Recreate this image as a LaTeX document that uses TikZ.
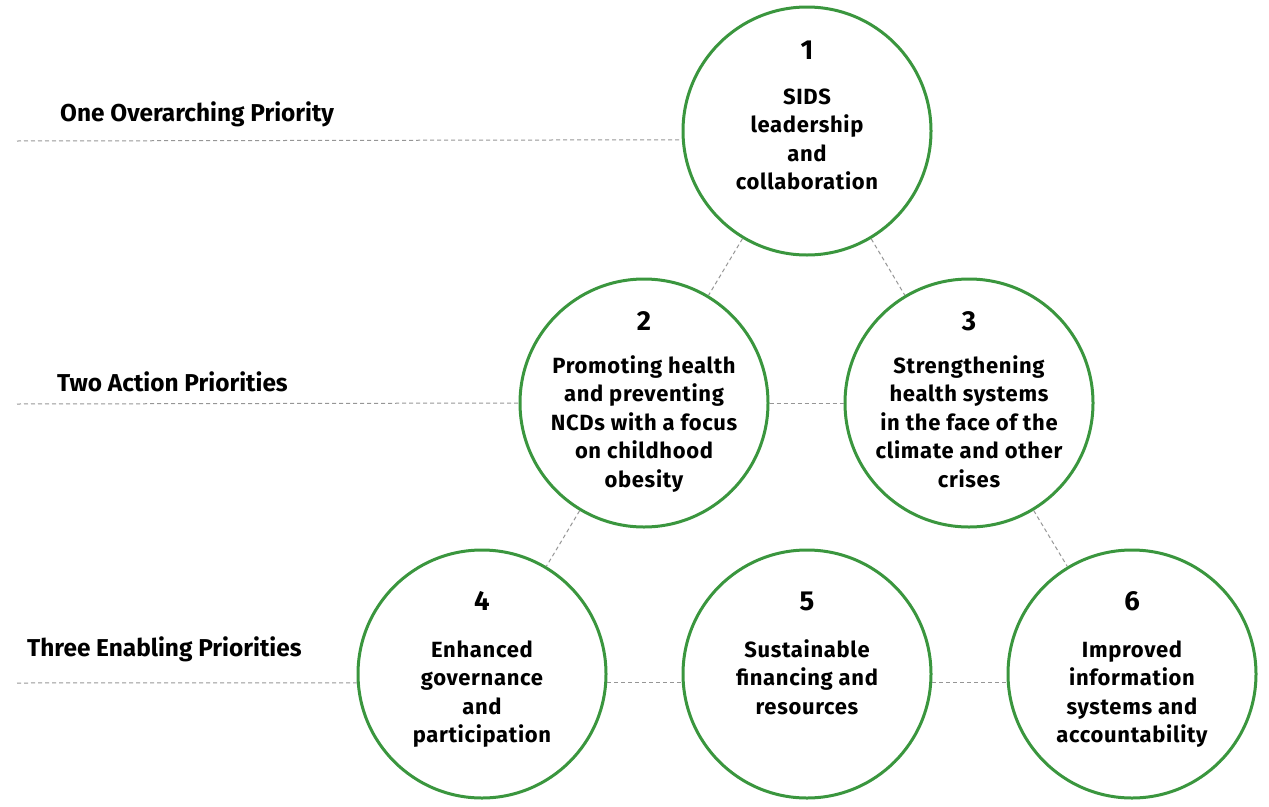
\documentclass[tikz,border=0pt]{standalone}
\usepackage{fontspec}
\setmainfont{Fira Sans}
\newfontfamily\bodyfont[LetterSpace=3.0]{Fira Sans}
\definecolor{ringgreen}{RGB}{58,150,62}
\definecolor{dashgray}{RGB}{150,150,150}
\tikzset{
  ring/.style={circle, draw=ringgreen, line width=3pt, minimum size=248pt, inner sep=0pt},
  num/.style={anchor=base, font=\fontsize{27.5}{30}\selectfont\bfseries, inner sep=0pt},
  body/.style={anchor=base, font=\bodyfont\fontsize{22}{28.5}\selectfont\bfseries, inner sep=0pt},
  lbl/.style={anchor=base west, font=\fontsize{24.4}{28}\selectfont\bfseries, inner sep=0pt},
  guide/.style={draw=dashgray, line width=1pt, dash pattern=on 4pt off 3pt},
}
\newcommand{\mylines}[1]{\setlength{\tabcolsep}{0pt}\begin{tabular}[t]{c}#1\end{tabular}}
\begin{document}
\begin{tikzpicture}[x=1pt,y=-1pt]
\useasboundingbox (0,0) rectangle (1269,806);
% circles
\node[ring] (c1) at (807,131) {};
\node[ring] (c2) at (644,403) {};
\node[ring] (c3) at (969,403) {};
\node[ring] (c4) at (482,674) {};
\node[ring] (c5) at (807,674) {};
\node[ring] (c6) at (1132,674) {};
% numbers
\node[num] (n1) at (807,59) {1};
\node[num] (n2) at (644,330) {2};
\node[num] (n3) at (969,330) {3};
\node[num] (n4) at (482,610) {4};
\node[num] (n5) at (807,610) {5};
\node[num] (n6) at (1132,610) {6};
% texts
\node[body] (t1) at (807,104) {\mylines{SIDS\\leadership\\and\\collaboration}};
\node[body] (t2) at (644,373) {\mylines{Promoting health\\and preventing\\NCDs with a focus\\on childhood\\obesity}};
\node[body] (t3) at (969,373) {\mylines{Strengthening\\health systems\\in the face of the\\climate and other\\crises}};
\node[body] (t4) at (482,657) {\mylines{Enhanced\\governance\\and\\participation}};
\node[body] (t5) at (807,657) {\mylines{Sustainable\\financing and\\resources}};
\node[body] (t6) at (1132,657) {\mylines{Improved\\information\\systems and\\accountability}};
% row labels
\node[lbl] (l1) at (60,121) {One Overarching Priority};
\node[lbl] (l2) at (57,391) {Two Action Priorities};
\node[lbl] (l3) at (27,656) {Three Enabling Priorities};
% guide lines
\coordinate (g1) at (17,141);
\coordinate (g2) at (17,404);
\coordinate (g3) at (17,683);
\draw[guide] (g1) -- (c1.184.6);
\draw[guide] (g2) -- (c2.180.5);
\draw[guide] (c2.-0.5) -- (c3.180.5);
\draw[guide] (g3) -- (c4.184.2);
\draw[guide] (c4.-4.2) -- (c5.184.2);
\draw[guide] (c5.-4.2) -- (c6.184.2);
% diagonal connectors
\draw[guide] (c1) -- (c2);
\draw[guide] (c1) -- (c3);
\draw[guide] (c2) -- (c4);
\draw[guide] (c3) -- (c6);
\end{tikzpicture}
\end{document}
